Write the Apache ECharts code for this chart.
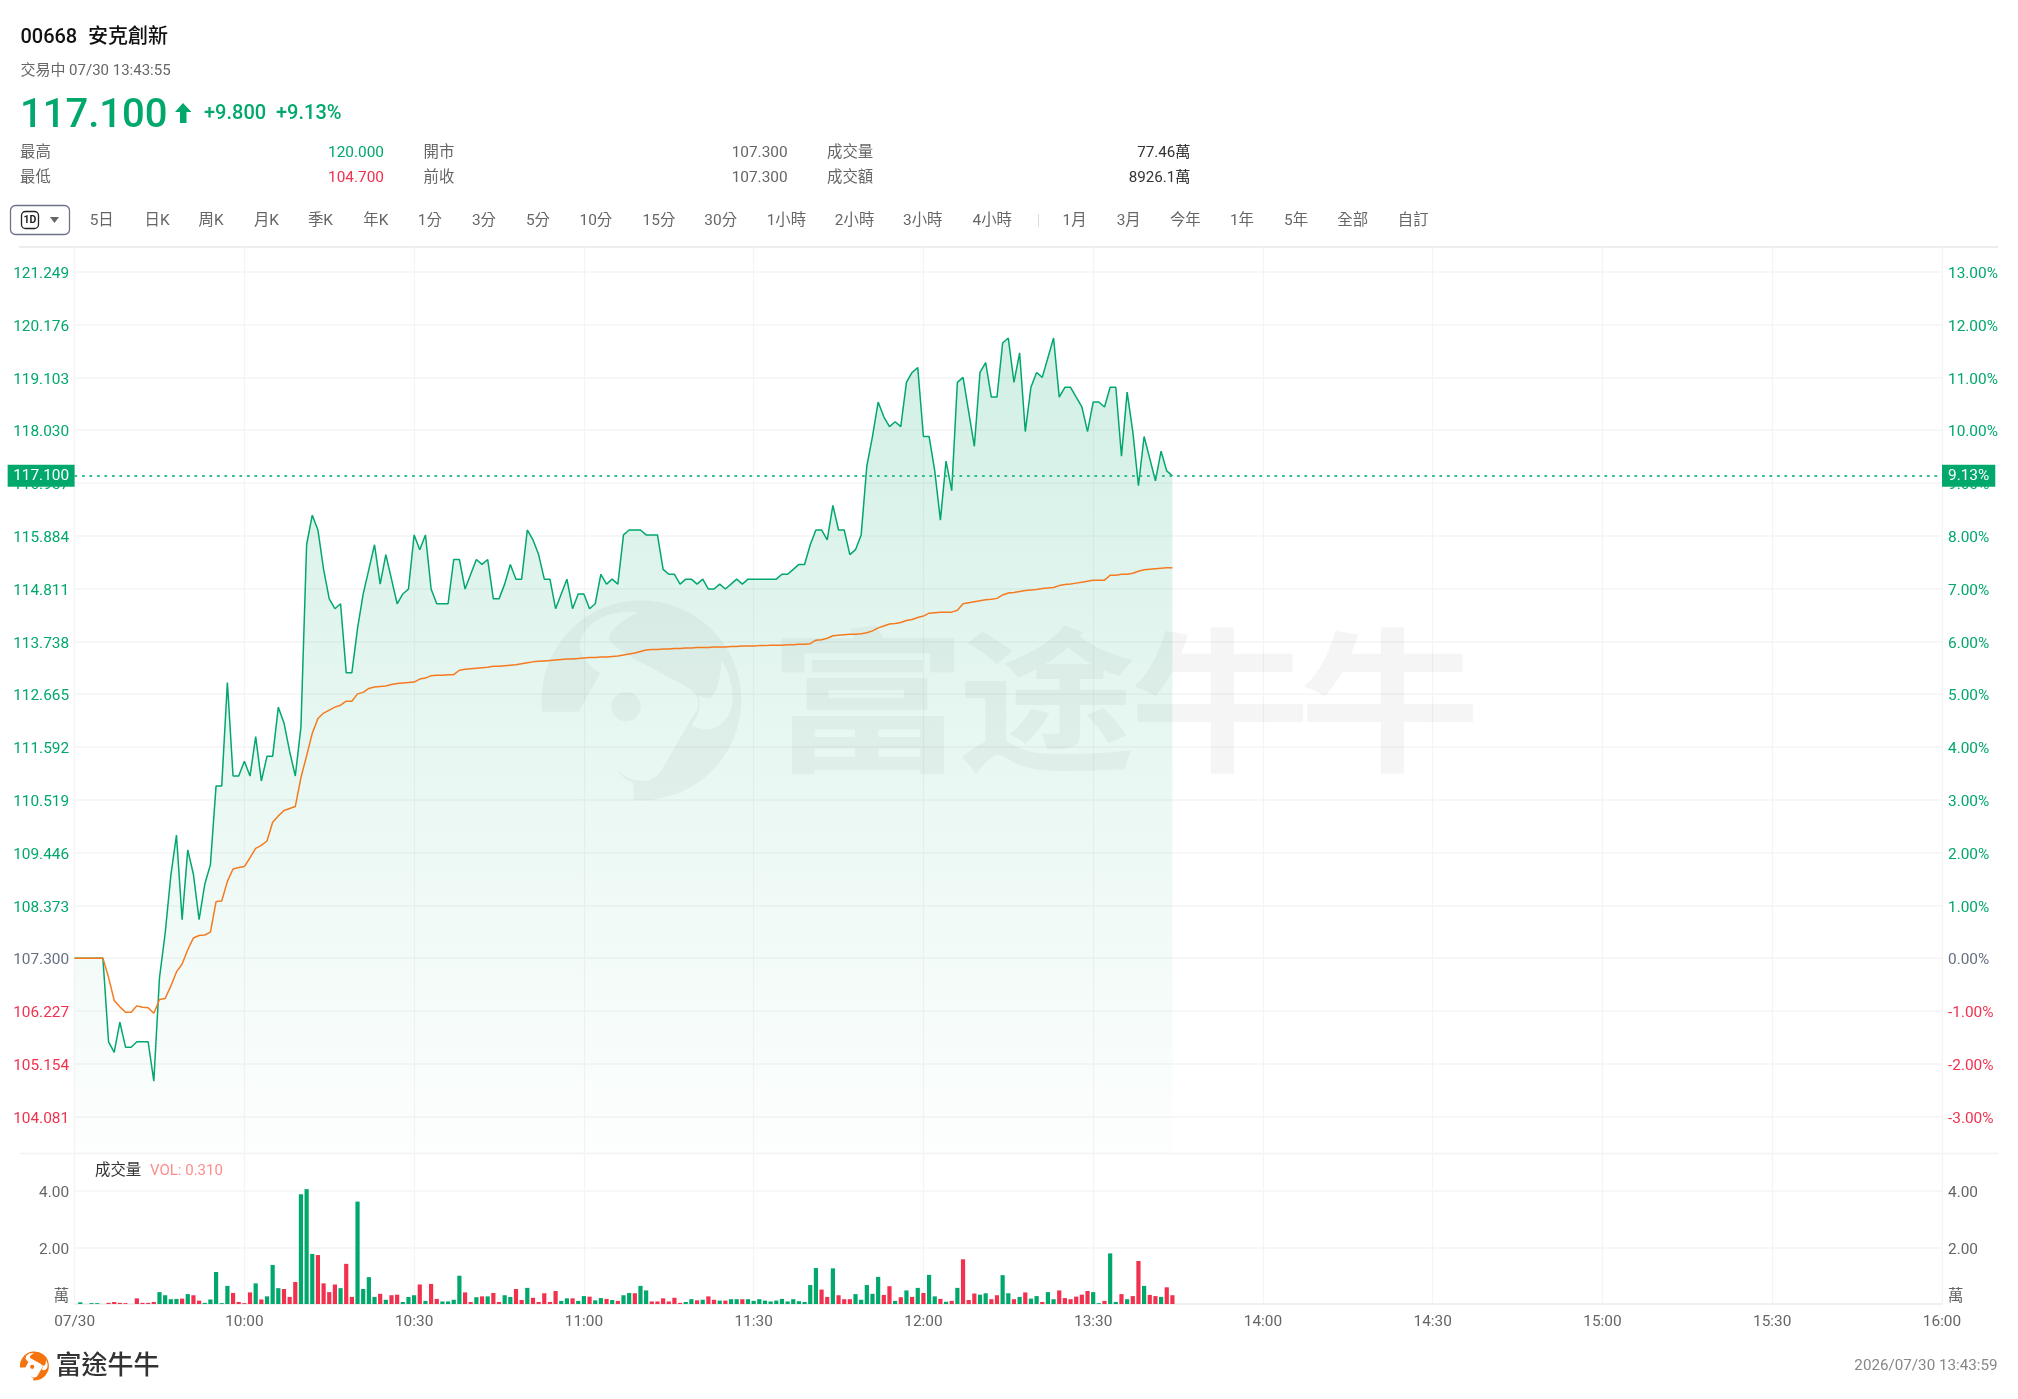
<!DOCTYPE html>
<html>
<head>
<meta charset="utf-8">
<title>00668 安克創新</title>
<script src="https://cdn.jsdelivr.net/npm/echarts@6/dist/echarts.min.js"></script>
<style>html,body{margin:0;padding:0;background:#fff}#chart{width:2018px;height:1399px}</style>
</head>
<body>
<div id="chart"></div>
<script>
const priceTicks = [121.249,120.176,119.103,118.030,116.957,115.884,114.811,113.738,112.665,111.592,110.519,109.446,108.373,107.300,106.227,105.154,104.081];
const percentTicks = [13,12,11,10,9,8,7,6,5,4,3,2,1,0,-1,-2,-3];
const volumeTicks = [0,2,4];
const timeTickLabels = ['07/30','10:00','10:30','11:00','11:30','12:00','13:30','14:00','14:30','15:00','15:30','16:00'];
const prices = [
107.3,107.3,107.3,107.3,107.3,107.3,105.6,105.385,106.0,105.49,105.49,105.6,105.6,105.6,104.8,106.9,107.8,108.97,109.8,108.08,
109.5,109.0,108.08,108.8,109.2,110.8,110.8,112.9,111.0,111.0,111.3,111.0,111.8,110.9,111.4,111.4,112.4,112.08,111.5,111.0,
112.0,115.7,116.3,116.0,115.2,114.6,114.4,114.5,113.1,113.1,114.0,114.7,115.2,115.7,114.9,115.5,115.0,114.5,114.7,114.8,
115.9,115.6,115.9,114.8,114.5,114.5,114.5,115.4,115.4,114.8,115.1,115.4,115.3,115.4,114.6,114.6,114.9,115.3,115.0,115.0,
116.0,115.8,115.5,115.0,115.0,114.4,114.7,115.0,114.4,114.7,114.7,114.4,114.5,115.1,114.9,115.0,114.9,115.9,116.0,116.0,
116.0,115.9,115.9,115.9,115.2,115.1,115.1,114.9,115.0,115.0,114.9,115.0,114.8,114.8,114.9,114.8,114.9,115.0,114.9,115.0,
115.0,115.0,115.0,115.0,115.0,115.1,115.1,115.2,115.3,115.3,115.7,116.0,116.0,115.8,116.5,116.0,116.0,115.5,115.6,115.9,
117.3,117.9,118.6,118.3,118.1,118.2,118.1,119.0,119.2,119.3,117.9,117.9,117.2,116.2,117.4,116.8,119.0,119.1,118.4,117.7,
119.2,119.4,118.7,118.7,119.8,119.9,119.0,119.6,118.0,118.9,119.2,119.1,119.5,119.9,118.7,118.9,118.9,118.7,118.5,118.0,
118.6,118.6,118.5,118.9,118.9,117.5,118.8,118.0,116.9,117.9,117.45,117.0,117.6,117.2,117.1];
const averages = [
107.3,107.3,107.3,107.3,107.3,107.3,106.91,106.44,106.31,106.2,106.2,106.33,106.3,106.29,106.18,106.46,106.48,106.73,107.02,107.18,
107.47,107.71,107.76,107.77,107.83,108.45,108.46,108.86,109.11,109.14,109.16,109.34,109.53,109.59,109.68,110.06,110.19,110.3,110.34,110.38,
110.97,111.41,111.87,112.17,112.28,112.34,112.4,112.44,112.52,112.52,112.67,112.7,112.78,112.81,112.82,112.83,112.86,112.88,112.89,112.9,
112.91,112.97,112.99,113.04,113.05,113.05,113.06,113.06,113.15,113.17,113.18,113.19,113.2,113.21,113.23,113.23,113.24,113.25,113.26,113.28,
113.3,113.32,113.33,113.34,113.35,113.36,113.37,113.38,113.38,113.39,113.4,113.41,113.41,113.42,113.42,113.43,113.44,113.46,113.48,113.5,
113.53,113.56,113.57,113.57,113.58,113.58,113.59,113.59,113.6,113.6,113.61,113.61,113.61,113.62,113.62,113.62,113.63,113.63,113.64,113.64,
113.64,113.65,113.65,113.66,113.66,113.66,113.67,113.67,113.68,113.68,113.69,113.76,113.77,113.8,113.85,113.86,113.87,113.88,113.88,113.89,
113.91,113.95,114.01,114.05,114.09,114.1,114.12,114.16,114.18,114.22,114.25,114.31,114.32,114.33,114.33,114.33,114.37,114.5,114.52,114.54,
114.56,114.58,114.59,114.61,114.68,114.72,114.73,114.75,114.77,114.78,114.79,114.81,114.82,114.83,114.87,114.89,114.9,114.92,114.94,114.96,
114.98,114.98,114.98,115.08,115.08,115.1,115.1,115.12,115.16,115.19,115.2,115.21,115.22,115.23,115.23];
const volumes = [
0,.06,0,.03,.03,0,.04,.07,.04,.03,0,.2,.04,.04,.07,.42,.31,.17,.18,.19,
.35,.31,.12,.04,.16,1.13,.03,.64,.39,.07,.03,.41,.73,.16,.27,1.38,.56,.53,.25,.78,
3.88,4.06,1.77,1.73,.73,.42,.69,.56,1.42,.25,3.62,.53,.95,.25,.36,.15,.31,.33,.07,.25,
.31,.69,.11,.71,.18,.09,.09,.15,1.0,.41,.07,.24,.27,.27,.39,.07,.31,.25,.53,.14,
.57,.22,.07,.38,.07,.46,.11,.2,.2,.11,.28,.26,.13,.21,.18,.14,.11,.31,.39,.38,
.64,.48,.09,.09,.2,.09,.22,.04,.07,.17,.13,.15,.27,.15,.12,.12,.17,.17,.17,.17,
.11,.17,.12,.09,.12,.18,.09,.17,.1,.07,.67,1.27,.51,.25,1.26,.31,.17,.17,.35,.15,
.67,.36,.96,.32,.63,.11,.24,.48,.25,.57,.39,1.03,.27,.18,.08,.11,.57,1.58,.14,.37,
.33,.38,.17,.31,1.02,.38,.17,.25,.41,.19,.28,.07,.42,.17,.48,.21,.17,.26,.33,.46,
.42,.03,.11,1.79,.07,.35,.17,.28,1.52,.64,.32,.28,.25,.59,.31];
const volumeUp = [
1,1,1,1,1,1,0,0,0,0,0,0,0,0,0,1,1,1,1,0,
1,0,0,1,1,1,1,1,0,0,0,0,1,0,1,1,1,0,0,0,
1,1,1,0,0,0,0,1,0,0,1,1,1,1,0,1,0,0,1,1,
1,0,1,0,0,1,1,1,1,0,0,1,0,1,0,0,1,1,0,0,
1,0,0,0,0,0,1,1,0,1,1,0,1,1,0,1,0,1,1,0,
1,1,0,0,0,0,0,0,1,1,0,1,0,0,1,0,1,1,0,1,
1,1,1,1,1,1,1,1,1,1,1,1,0,0,1,0,0,0,1,1,
1,1,1,0,0,1,0,1,0,1,0,1,1,0,1,0,1,0,0,0,
1,1,0,0,1,1,0,1,0,1,1,0,1,1,0,0,0,0,0,0,
1,1,0,1,1,0,1,0,0,1,0,0,1,0,0];

const GREEN = '#00A86B', RED = '#F2314F', ORANGE = '#F57A20', GRAY = '#666666', NEUTRAL = '#667080', GRID = '#F4F4F4';
const FF = 'Roboto,"Noto Sans CJK TC",sans-serif';
const PREV_CLOSE = 107.3, MINUTES = 331;
const Y_MIN = 103.33, Y_MAX = 121.75;
const toPct = p => (p - PREV_CLOSE) / PREV_CLOSE * 100;

const categories = [];
for (let i = 0; i < MINUTES; i++) categories.push(i % 30 === 0 ? timeTickLabels[i / 30] : 'm' + i);
const onTick = i => i % 30 === 0;

const LOGO = 'M66,365 A300,300 0 1 1 340,630 L340,580 Q300,560 292,540 Q330,575 370,572 Q410,570 430,530 L520,375 Q545,350 528,315 Q515,300 490,285 L340,205 Q270,165 267,145 Q270,110 355,67 Q300,60 250,80 Q185,110 180,165 Q180,210 241,250 L176,365 Z '
  + 'M605,210 Q600,300 570,325 Q550,325 534,315 Q548,350 528,385 L515,405 Q560,430 600,405 Q640,370 637,320 Q635,260 605,210 Z '
  + 'M274,350 a44,44 0 1,1 88,0 a44,44 0 1,1 -88,0 Z';
echarts.graphic.registerShape('logoPath', echarts.graphic.extendPath(LOGO, {}));

function T(x, y, text, size, fill, align, weight, font) {
  return { type: 'text', silent: true, z: 50, x, y,
    style: { text, fill, textAlign: align || 'left', textVerticalAlign: 'middle',
      font: (weight || 400) + ' ' + size + 'px ' + (font || FF) } };
}
const k = 1.287, FS = 15.4, footerScale = 29 / 600;
const toolbar = [['5日',79],['日K',122],['周K',164],['月K',207],['季K',249],['年K',292],['1分',334],['3分',376],['5分',418],['10分',463],['15分',512],['30分',560],['1小時',611],['2小時',664],['3小時',717],['4小時',771],['1月',835],['3月',877],['今年',921],['1年',965],['5年',1007],['全部',1051],['自訂',1098]];
const ROW1 = 153, ROW2 = 178;
const graphics = [
  // watermark
  { type:'logoPath', silent:true, z:1, x:520, y:590, scaleX:1/3, scaleY:1/3, style:{ fill:'rgba(0,0,0,0.04)' } },
  ...[['富',867.5,1.2],['途',1047,1.07],['牛',1220,1.08],['牛',1390,1.08]].map(([c,x,sx]) => ({ type:'text', silent:true, z:1, x, y:700, scaleX:sx, scaleY:0.92,
     style:{ text:c, fill:'rgba(0,0,0,0.04)', textAlign:'center', textVerticalAlign:'middle', font:'700 168px "Noto Sans CJK SC",sans-serif' } })),
  // header
  T(20.4,37.5,'00668',20,'#111',null,500), T(88,37.5,'安克創新',20,'#111',null,500),
  T(20.4,71.3,'交易中 07/30 13:43:55',15,GRAY),
  T(20,117,'117.100',40,GREEN,null,500),
  { type:'polygon', silent:true, z:50, shape:{ points:[[183,103],[191.5,112],[186.5,112],[186.5,123],[180,123],[180,112],[175,112]] }, style:{ fill:GREEN } },
  T(204,114.3,'+9.800',20,GREEN,null,500), T(276,114.3,'+9.13%',20,GREEN,null,500),
  T(20,ROW1,'最高',FS,GRAY), T(384,ROW1,'120.000',FS,GREEN,'right'),
  T(423.5,ROW1,'開市',FS,GRAY), T(787.6,ROW1,'107.300',FS,GRAY,'right'),
  T(827,ROW1,'成交量',FS,GRAY), T(1190.5,ROW1,'77.46萬',15.2,'#333','right'),
  T(20,ROW2,'最低',FS,GRAY), T(384,ROW2,'104.700',FS,RED,'right'),
  T(423.5,ROW2,'前收',FS,GRAY), T(787.6,ROW2,'107.300',FS,GRAY,'right'),
  T(827,ROW2,'成交額',FS,GRAY), T(1190.5,ROW2,'8926.1萬',15.2,'#333','right'),
  // toolbar
  { type:'rect', silent:true, z:50, shape:{ x:10.5,y:205.5,width:59,height:29,r:5 }, style:{ fill:'#fff', stroke:'#6B7485', lineWidth:1.3 } },
  { type:'rect', silent:true, z:50, shape:{ x:21.5,y:211.5,width:17,height:17,r:4 }, style:{ fill:'#fff', stroke:'#222', lineWidth:1.3 } },
  T(30,220.3,'1D',10.5,'#222','center',700),
  { type:'polygon', silent:true, z:50, shape:{ points:[[50,217],[59,217],[54.5,223]] }, style:{ fill:'#666' } },
  ...toolbar.map(([t,x]) => T(x*k,221.3,t,FS,GRAY,'center')),
  { type:'line', silent:true, z:50, shape:{ x1:1038.5,y1:214,x2:1038.5,y2:227 }, style:{ stroke:'#DDD', lineWidth:1 } },
  // separators
  { type:'line', silent:true, z:0, shape:{ x1:19,y1:247,x2:1998,y2:247 }, style:{ stroke:'#EDEDED', lineWidth:2 } },
  { type:'line', silent:true, z:0, shape:{ x1:20,y1:1153.5,x2:1998,y2:1153.5 }, style:{ stroke:'#F2F2F2', lineWidth:1.5 } },
  // volume legend
  T(95,1171.5,'成交量',FS,'#333'), T(150,1171.5,'VOL: 0.310',15,'#FF8C8C'),
  // footer
  { type:'logoPath', silent:true, z:50, x:20-66*footerScale, y:1351.5-32*footerScale, scaleX:footerScale, scaleY:footerScale, style:{ fill:'#F5730F' } },
  T(55.5,1367.5,'富途牛牛',26,'#333',null,500),
  T(1997.5,1366,'2026/07/30 13:43:59',15.2,'#888','right')
];

// top-anchored labels whose text centre sits a little under the tick, as in the reference
const labelShift = { verticalAlign:'top', lineHeight:16, padding:[-5.5,0,0,0] };
const option = {
  animation: false,
  backgroundColor: '#fff',
  textStyle: { fontFamily: FF },
  graphic: { elements: graphics },
  grid: [
    { left: 74.6, right: 2018 - 1942, top: 247, height: 906.5 },
    { left: 74.6, right: 2018 - 1942, top: 1153.5, height: 150.5 }
  ],
  xAxis: [
    { type:'category', gridIndex:0, data:categories, boundaryGap:false,
      axisLine:{show:false}, axisTick:{show:false}, axisLabel:{show:false},
      splitLine:{ show:true, interval:onTick, lineStyle:{ color:GRID, width:1.3 } } },
    { type:'category', gridIndex:1, data:categories, boundaryGap:false,
      axisLine:{ show:true, lineStyle:{ color:'#F0F0F0', width:2 } }, axisTick:{show:false},
      axisLabel:{ show:true, interval:onTick, color:GRAY, fontSize:FS, fontFamily:FF, margin:10, hideOverlap:false,
                  showMinLabel:true, showMaxLabel:true },
      splitLine:{ show:true, interval:onTick, lineStyle:{ color:GRID, width:1.3 } } }
  ],
  yAxis: [
    { type:'value', gridIndex:0, min:Y_MIN, max:Y_MAX, position:'left', scale:true,
      axisLine:{show:false},
      axisTick:{ show:false, customValues:priceTicks },
      axisLabel:{ customValues:priceTicks, fontSize:FS, fontFamily:FF, margin:5.5, align:'right', ...labelShift,
        formatter:v => v.toFixed(3),
        color:v => Math.abs(v-PREV_CLOSE)<1e-6 ? NEUTRAL : (v>PREV_CLOSE ? GREEN : RED) },
      splitLine:{ show:true, lineStyle:{ color:GRID, width:1.5 } } },
    { type:'value', gridIndex:0, min:toPct(Y_MIN), max:toPct(Y_MAX), position:'right', scale:true,
      axisLine:{show:false}, axisTick:{ show:false, customValues:percentTicks },
      axisLabel:{ customValues:percentTicks, fontSize:FS, fontFamily:FF, margin:6, align:'left', ...labelShift,
        formatter:v => v.toFixed(2)+'%',
        color:v => Math.abs(v)<1e-6 ? NEUTRAL : (v>0 ? GREEN : RED) },
      splitLine:{show:false} },
    { type:'value', gridIndex:1, min:0, max:5.32, position:'left',
      axisLine:{show:false}, axisTick:{ show:false, customValues:volumeTicks },
      axisLabel:{ customValues:[0.32,2,4], fontSize:FS, fontFamily:FF, margin:5.5, align:'right', color:GRAY, ...labelShift,
        formatter:v => v<1 ? '萬' : v.toFixed(2) },
      splitLine:{ show:true, lineStyle:{ color:GRID, width:1.5 } } },
    { type:'value', gridIndex:1, min:0, max:5.32, position:'right',
      axisLine:{show:false}, axisTick:{ show:false, customValues:volumeTicks },
      axisLabel:{ customValues:[0.32,2,4], fontSize:FS, fontFamily:FF, margin:6, align:'left', color:GRAY, ...labelShift,
        formatter:v => v<1 ? '萬' : v.toFixed(2) },
      splitLine:{show:false} }
  ],
  series: [
    { name:'價格', type:'line', xAxisIndex:0, yAxisIndex:0, data:prices, showSymbol:false, symbol:'none', smooth:false, z:3,
      lineStyle:{ color:GREEN, width:1.5 },
      areaStyle:{ origin:'start', color:{ type:'linear', x:0,y:0,x2:0,y2:1, colorStops:[
        {offset:0,color:'rgba(0,168,107,0.25)'},{offset:1,color:'rgba(0,168,107,0.01)'}] } },
      markLine:{ silent:true, symbol:'none', animation:false, z:20,
        lineStyle:{ color:'#2BB98A', type:[2.5,5], width:1.5 },
        data:[
          { yAxis:117.1, label:{ show:true, position:'start', distance:0, formatter:'117.100', color:'#fff', fontSize:FS, fontFamily:FF,
              backgroundColor:GREEN, padding:[3,5.5], lineHeight:16 } },
          { yAxis:117.1, label:{ show:true, position:'end', distance:0, formatter:'9.13%', color:'#fff', fontSize:FS, fontFamily:FF,
              backgroundColor:GREEN, padding:[3,6], lineHeight:16 } }
        ] } },
    { name:'均價', type:'line', xAxisIndex:0, yAxisIndex:0, data:averages, showSymbol:false, symbol:'none', smooth:false, z:4,
      lineStyle:{ color:ORANGE, width:1.5 } },
    { name:'成交量', type:'bar', xAxisIndex:1, yAxisIndex:2, barWidth:4.2,
      data:volumes.map((v,i) => ({ value:v, itemStyle:{ color:volumeUp[i] ? GREEN : RED } })) }
  ]
};
const chart = echarts.init(document.getElementById('chart'), null, { renderer:'canvas' });
chart.setOption(option);
</script>
</body>
</html>
